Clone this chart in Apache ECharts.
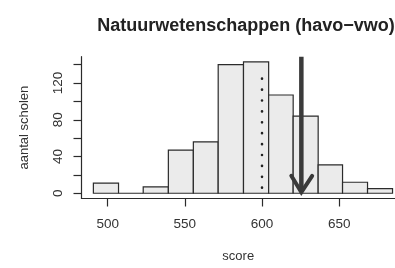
<!DOCTYPE html>
<html>
<head>
<meta charset="utf-8">
<script src="https://cdn.jsdelivr.net/npm/echarts@6/dist/echarts.min.js"></script>
<style>
  html, body { margin: 0; padding: 0; background: #fff; }
  #chart { width: 395px; height: 268px; }
</style>
</head>
<body>
<div id="chart"></div>
<script>
// histogram bins (score) and number of schools per bin
const binEdges = [490.7, 507, 523, 539.3, 555.5, 571.6, 588, 604.3, 620.2, 636.4, 652.2, 668.4, 684.6];
const counts = [11, 0, 7, 47, 56, 140, 143, 107, 84, 31, 12, 5];

const xTicks = [500, 550, 600, 650];
const yTicks = [0, 20, 40, 60, 80, 100, 120, 140];
const yLabels = [0, 40, 80, 120];

// reference line (dotted) and arrow (school score)
const refScore = 600;
const refLine = [[refScore, 6], [refScore, 133]];
const schoolScore = 625.5;
const arrowShaft = [[schoolScore, 148.7], [schoolScore, 1.5]];
const arrowHead = [[619, 19], [schoolScore, 1], [632.5, 19]];

const ink = "#2b2b2b";
const font = "Liberation Sans, Arial, sans-serif";

const bins = counts.map((c, i) => [binEdges[i], binEdges[i + 1], c]);

const chart = echarts.init(document.getElementById("chart"), null, { renderer: "canvas" });

const option = {
  animation: false,
  backgroundColor: "#fff",
  title: {
    text: "Natuurwetenschappen (havo\u2212vwo)",
    left: 241,
    top: 12.5,
    textAlign: "center",
    textStyle: { fontFamily: font, fontSize: 18, fontWeight: "bold", color: "#222" },
  },
  grid: { left: 81.5, right: 0, top: 56.7, bottom: 64.5, containLabel: false },
  xAxis: {
    type: "value",
    min: 483,
    max: 686.2,
    name: "score",
    nameLocation: "middle",
    nameGap: 51.5,
    nameTextStyle: { fontFamily: font, fontSize: 13, color: "#333" },
    axisLine: { show: true, onZero: false, lineStyle: { color: ink, width: 1.2 } },
    axisTick: { show: true, customValues: xTicks, length: 8, lineStyle: { color: ink, width: 1.2 } },
    axisLabel: { customValues: xTicks, margin: 18.5, fontFamily: font, fontSize: 13.5, color: "#333" },
    splitLine: { show: false },
  },
  yAxis: {
    type: "value",
    min: -5.72,
    max: 148.72,
    name: "aantal scholen",
    nameLocation: "middle",
    nameRotate: 90,
    nameGap: 51,
    nameTextStyle: { fontFamily: font, fontSize: 13, color: "#333" },
    axisLine: { show: true, onZero: false, lineStyle: { color: ink, width: 1.2 } },
    axisTick: { show: true, customValues: yTicks, length: 8, lineStyle: { color: ink, width: 1.2 } },
    axisLabel: { customValues: yLabels, rotate: 90, margin: 16, fontFamily: font, fontSize: 13.5, color: "#333" },
    splitLine: { show: false },
  },
  series: [
    {
      type: "custom",
      data: bins,
      encode: { x: [0, 1], y: 2 },
      clip: false,
      renderItem: (params, api) => {
        const topLeft = api.coord([api.value(0), api.value(2)]);
        const bottomRight = api.coord([api.value(1), 0]);
        return {
          type: "rect",
          shape: {
            x: topLeft[0],
            y: topLeft[1],
            width: bottomRight[0] - topLeft[0],
            height: bottomRight[1] - topLeft[1],
          },
          style: { fill: "#ebebeb", stroke: ink, lineWidth: 1.2 },
        };
      },
    },
    {
      type: "line",
      data: refLine,
      symbol: "none",
      clip: false,
      lineStyle: { color: "#222", width: 2.6, type: [0.1, 10.8], cap: "round" },
    },
    {
      type: "line",
      data: arrowShaft,
      symbol: "none",
      clip: false,
      lineStyle: { color: "#3a3a3a", width: 4.5, cap: "butt" },
    },
    {
      type: "line",
      data: arrowHead,
      symbol: "none",
      clip: false,
      lineStyle: { color: "#3a3a3a", width: 4, cap: "round", join: "miter" },
    },
  ],
};

option && chart.setOption(option);

window.addEventListener("resize", () => {
  chart.resize();
});
</script>
</body>
</html>
